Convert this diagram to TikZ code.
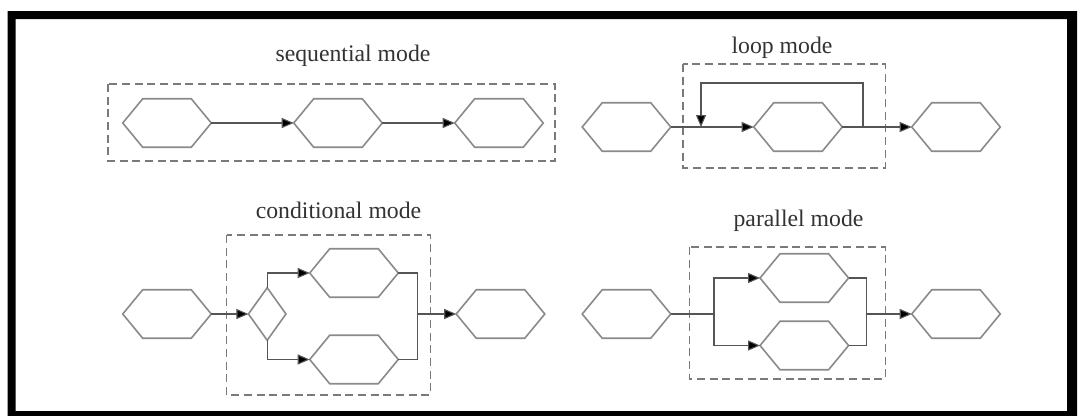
\documentclass[tikz,border=0pt]{standalone}
\usepackage{fontspec}
\setmainfont{Liberation Serif}
\usetikzlibrary{arrows.meta}

\definecolor{hexgray}{HTML}{8A8A8A}
\definecolor{linegray}{HTML}{555555}
\definecolor{boxgray}{HTML}{7A7A7A}
\definecolor{titlegray}{HTML}{333333}

\tikzset{
  hexbox/.style={shape=rectangle, draw=none, inner sep=0pt,
    minimum width=66pt, minimum height=36pt},
  diabox/.style={shape=rectangle, draw=none, inner sep=0pt,
    minimum width=27.75pt, minimum height=39pt},
  hexline/.style={draw=hexgray, line width=1.2pt, line join=miter},
  conn/.style={draw=linegray, line width=0.8pt},
  arr/.style={conn, -{Triangle[length=9pt, width=7.5pt, fill=black]}},
  groupbox/.style={draw=boxgray, line width=1pt, dash pattern=on 6pt off 3.5pt},
  modetitle/.style={anchor=base, inner sep=0pt, text=titlegray,
    font=\fontsize{17.8}{20}\selectfont},
}

% a hexagon-shaped step: a named box plus its outline
\newcommand\hexat[2]{%
  \node[hexbox] (#1) at (#2) {};
  \draw[hexline] (#1.west) -- ([xshift=15pt]#1.north west)
    -- ([xshift=-15pt]#1.north east) -- (#1.east)
    -- ([xshift=-15pt]#1.south east) -- ([xshift=15pt]#1.south west) -- cycle;}

\begin{document}
\begin{tikzpicture}[x=0.75pt, y=-0.75pt]
\useasboundingbox (0,0) rectangle (1080,415);
\fill[white] (0,0) rectangle (1080,415);

% black frame
\fill[black, even odd rule] (7.6,11) rectangle (1077,416)
                            (15.5,19) rectangle (1067,411);

% ---------------- sequential mode ----------------
\node[modetitle] (tseq) at (353,61) {sequential mode};
\draw[groupbox] (108,84) rectangle (555,161);
\hexat{s1}{167,123}
\hexat{s2}{338,123}
\hexat{s3}{499,123}
\draw[arr] (s1.east) -- (s2.west);
\draw[arr] (s2.east) -- (s3.west);

% ---------------- loop mode ----------------
\node[modetitle] (tloop) at (782,53.3) {loop mode};
\draw[groupbox] (683,64) rectangle (885.4,168);
\hexat{l1}{626.5,127}
\hexat{l2}{798,127}
\hexat{l3}{956,127}
\coordinate (lsplit) at (863,127);
\coordinate (ljoin) at (701,127);
\draw[arr] (l1.east) -- (l2.west);
\draw[arr] (l2.east) -- (l3.west);
\draw[arr] (lsplit) -- ++(0,-44) -| (ljoin);

% ---------------- conditional mode ----------------
\node[modetitle] (tcond) at (338.5,218) {conditional mode};
\draw[groupbox] (226.6,235) rectangle (430.4,395);
\hexat{c1}{167,314}
\node[diabox] (dia) at (267.2,314) {};
\draw[hexline] (dia.west) -- (dia.north) -- (dia.east) -- (dia.south) -- cycle;
\hexat{ct}{354,273}
\hexat{cb}{354,359.5}
\hexat{c2}{500.5,314}
\coordinate (cjoin) at (417.7,314);
\draw[arr] (c1.east) -- (dia.west);
\draw[arr] (dia.north) |- (ct.west);
\draw[arr] (dia.south) |- (cb.west);
\draw[conn] (ct.east) -| (cjoin);
\draw[conn] (cb.east) -| (cjoin);
\draw[arr] (cjoin) -- (c2.west);

% ---------------- parallel mode ----------------
\node[modetitle] (tpar) at (798.5,226.7) {parallel mode};
\draw[groupbox] (689.8,247) rectangle (885.4,379);
\hexat{p1}{626.5,314}
\hexat{pt}{804.3,278}
\hexat{pb}{804.3,345.5}
\hexat{p2}{956,314}
\coordinate (psplit) at (714,314);
\coordinate (pjoin) at (866.4,314);
\draw[conn] (p1.east) -- (psplit);
\draw[arr] (psplit) |- (pt.west);
\draw[arr] (psplit) |- (pb.west);
\draw[conn] (pt.east) -| (pjoin);
\draw[conn] (pb.east) -| (pjoin);
\draw[arr] (pjoin) -- (p2.west);
\end{tikzpicture}
\end{document}
